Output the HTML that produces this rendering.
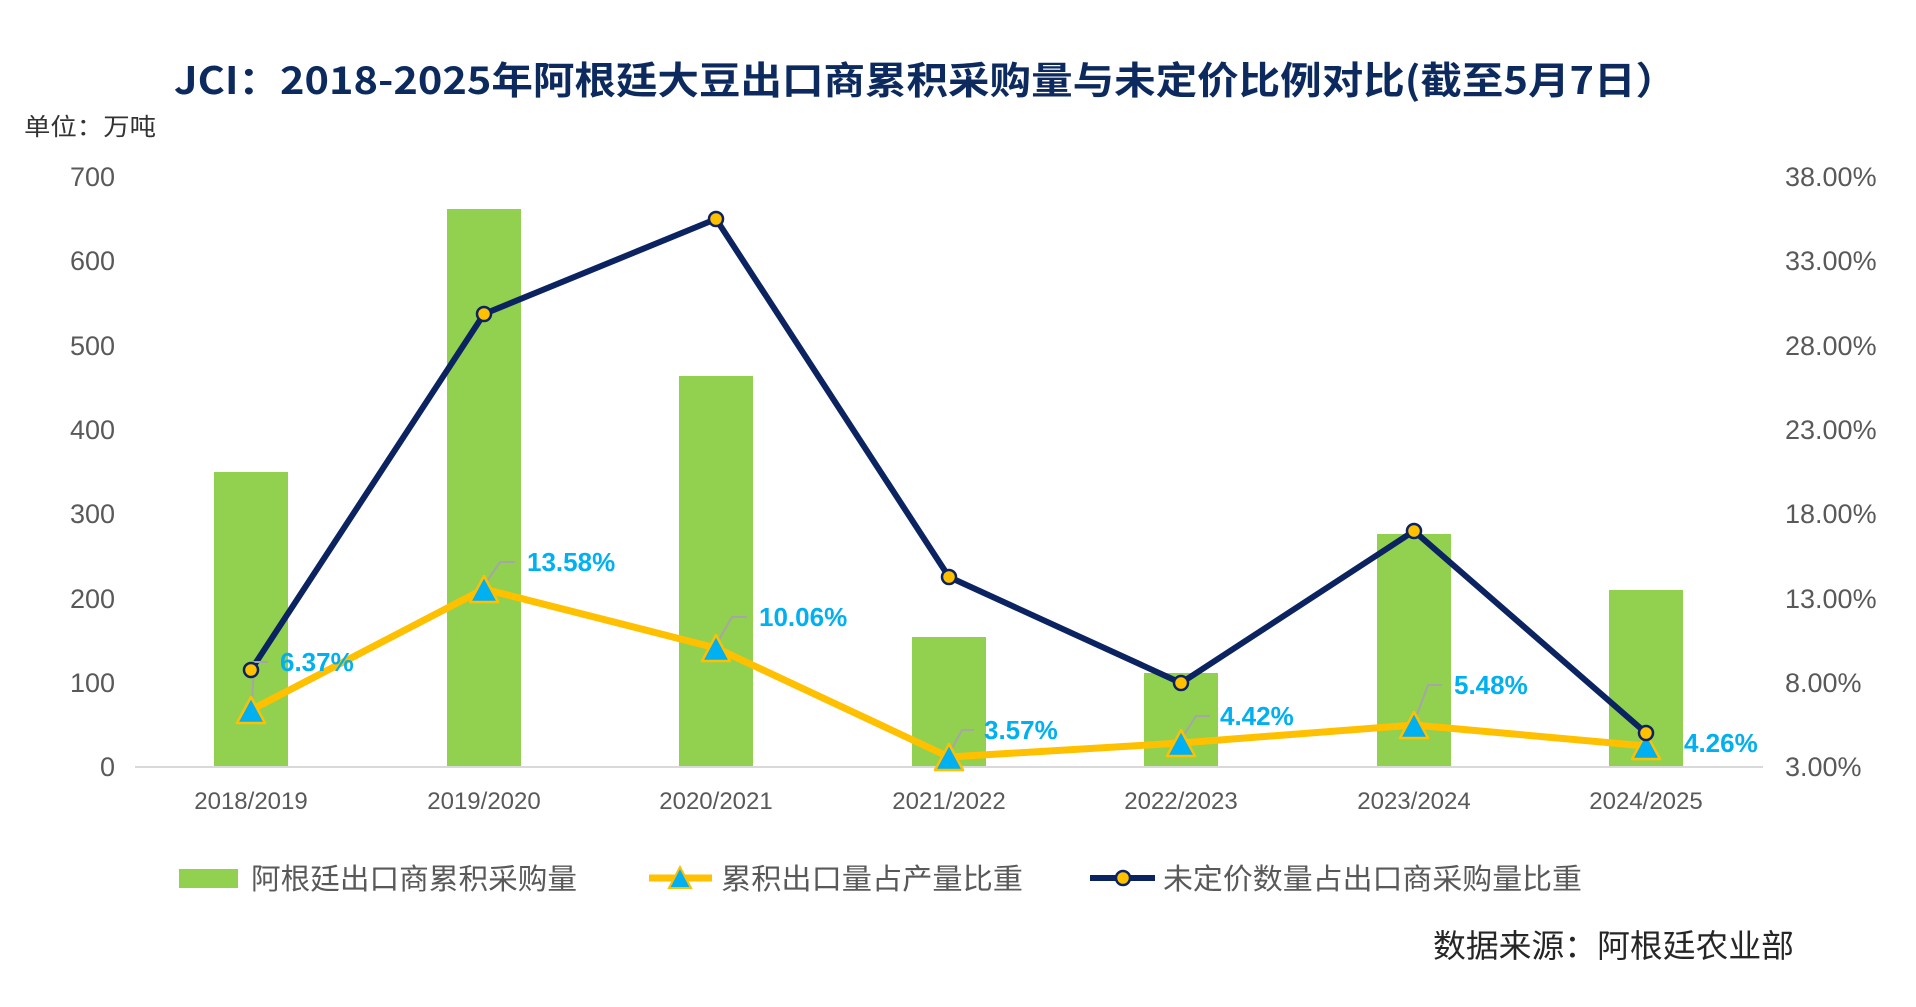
<!DOCTYPE html>
<html><head><meta charset="utf-8"><style>
html,body{margin:0;padding:0;background:#fff;}
svg{display:block;}
text{font-family:"Liberation Sans","Noto Sans CJK SC",sans-serif;}
.cjk{font-family:"Noto Sans CJK SC","Liberation Sans",sans-serif;}
.tk{font-family:"Liberation Sans Narrow","Liberation Sans",sans-serif;fill:#595959;font-size:27px;}
.xl{font-family:"Liberation Sans Narrow","Liberation Sans",sans-serif;fill:#595959;font-size:24px;}
.dl{font-family:"Liberation Sans Narrow","Liberation Sans",sans-serif;fill:#00B0F0;font-size:26px;font-weight:bold;}
</style></head><body>
<svg width="1916" height="1007" viewBox="0 0 1916 1007" xmlns="http://www.w3.org/2000/svg">
<rect width="1916" height="1007" fill="#fff"/>
<text class="cjk" x="174" y="94" font-size="38" font-weight="bold" fill="#0c2a5e" textLength="1503" lengthAdjust="spacingAndGlyphs">JCI：2018-2025年阿根廷大豆出口商累积采购量与未定价比例对比(截至5月7日）</text>
<text class="cjk" x="24" y="135" font-size="24" fill="#333" textLength="132" lengthAdjust="spacingAndGlyphs">单位：万吨</text>

<!-- left ticks -->
<g class="tk" text-anchor="end">
<text x="115" y="186">700</text><text x="115" y="270">600</text><text x="115" y="355">500</text>
<text x="115" y="439">400</text><text x="115" y="523">300</text><text x="115" y="608">200</text>
<text x="115" y="692">100</text><text x="115" y="776">0</text>
</g>
<!-- right ticks -->
<g class="tk">
<text x="1785" y="186">38.00%</text><text x="1785" y="270">33.00%</text><text x="1785" y="355">28.00%</text>
<text x="1785" y="439">23.00%</text><text x="1785" y="523">18.00%</text><text x="1785" y="608">13.00%</text>
<text x="1785" y="692">8.00%</text><text x="1785" y="776">3.00%</text>
</g>

<!-- bars -->
<g fill="#92D050">
<rect x="214" y="472" width="74" height="295"/>
<rect x="447" y="209" width="74" height="558"/>
<rect x="679" y="376" width="74" height="391"/>
<rect x="912" y="637" width="74" height="130"/>
<rect x="1144" y="673" width="74" height="94"/>
<rect x="1377" y="534" width="74" height="233"/>
<rect x="1609" y="590" width="74" height="177"/>
</g>
<line x1="135" y1="767" x2="1763" y2="767" stroke="#d9d9d9" stroke-width="2"/>

<!-- x labels -->
<g class="xl" text-anchor="middle">
<text x="251" y="809">2018/2019</text><text x="484" y="809">2019/2020</text><text x="716" y="809">2020/2021</text>
<text x="949" y="809">2021/2022</text><text x="1181" y="809">2022/2023</text><text x="1414" y="809">2023/2024</text>
<text x="1646" y="809">2024/2025</text>
</g>

<!-- navy line -->
<polyline points="251,670 484,314 716,219 949,577 1181,683 1414,531 1646,733" fill="none" stroke="#0b2360" stroke-width="6" stroke-linejoin="round"/>

<!-- yellow line -->
<polyline points="251,710 484,589 716,648 949,757 1181,743 1414,725 1646,746" fill="none" stroke="#FFC000" stroke-width="7" stroke-linejoin="round"/>

<!-- leader lines -->
<g fill="none" stroke="#a6a6a6" stroke-width="2">
<polyline points="252,705 254,662 268,662"/>
<polyline points="485,584 500,562 515,562"/>
<polyline points="717,643 732,617 747,617"/>
<polyline points="950,752 962,730 974,730"/>
<polyline points="1182,738 1196,716 1210,716"/>
<polyline points="1415,720 1428,685 1442,685"/>
</g>

<!-- triangles -->
<g fill="#00B0F0" stroke="#FFC000" stroke-width="2.5" stroke-linejoin="round">
<polygon points="251,697 237,723 265,723"/>
<polygon points="484,576 470,602 498,602"/>
<polygon points="716,635 702,661 730,661"/>
<polygon points="949,744 935,770 963,770"/>
<polygon points="1181,730 1167,756 1195,756"/>
<polygon points="1414,712 1400,738 1428,738"/>
<polygon points="1646,733 1632,759 1660,759"/>
</g>
<!-- circles -->
<g fill="#FFC000" stroke="#0b2360" stroke-width="2.5">
<circle cx="251" cy="670" r="7"/><circle cx="484" cy="314" r="7"/><circle cx="716" cy="219" r="7"/>
<circle cx="949" cy="577" r="7"/><circle cx="1181" cy="683" r="7"/><circle cx="1414" cy="531" r="7"/>
<circle cx="1646" cy="733" r="7"/>
</g>

<!-- data labels -->
<g class="dl">
<text x="280" y="671">6.37%</text>
<text x="527" y="571">13.58%</text>
<text x="759" y="626">10.06%</text>
<text x="984" y="739">3.57%</text>
<text x="1220" y="725">4.42%</text>
<text x="1454" y="694">5.48%</text>
<text x="1684" y="752">4.26%</text>
</g>

<!-- legend -->
<rect x="179" y="869" width="59" height="19" fill="#92D050"/>
<text class="cjk" x="251" y="889" font-size="29" fill="#595959" textLength="326" lengthAdjust="spacingAndGlyphs">阿根廷出口商累积采购量</text>
<line x1="649" y1="878" x2="712" y2="878" stroke="#FFC000" stroke-width="7"/>
<polygon points="680,867 669,888 691,888" fill="#00B0F0" stroke="#FFC000" stroke-width="2"/>
<text class="cjk" x="721" y="889" font-size="29" fill="#595959" textLength="302" lengthAdjust="spacingAndGlyphs">累积出口量占产量比重</text>
<line x1="1090" y1="878" x2="1155" y2="878" stroke="#0b2360" stroke-width="6"/>
<circle cx="1123" cy="878" r="7" fill="#FFC000" stroke="#0b2360" stroke-width="2.5"/>
<text class="cjk" x="1163" y="889" font-size="29" fill="#595959" textLength="419" lengthAdjust="spacingAndGlyphs">未定价数量占出口商采购量比重</text>

<text class="cjk" x="1433" y="957" font-size="32" fill="#262626" textLength="361" lengthAdjust="spacingAndGlyphs">数据来源：阿根廷农业部</text>
</svg>
</body></html>
